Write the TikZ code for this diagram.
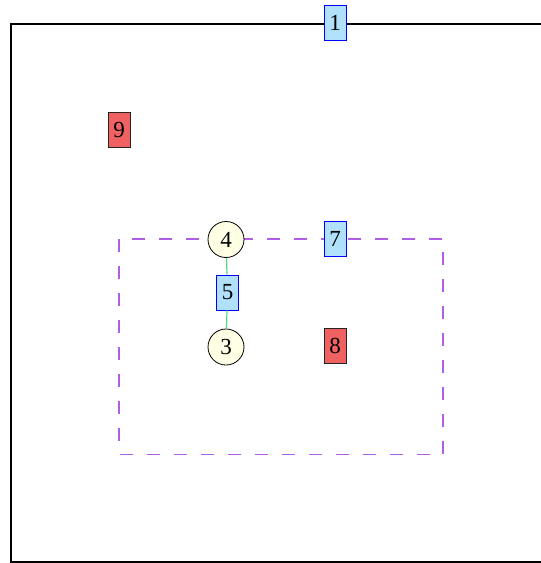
\documentclass[tikz,border=0pt]{standalone}
\usepackage{fontspec}
\setmainfont{Liberation Serif}
\definecolor{boxblue}{RGB}{176,224,250}
\definecolor{boxred}{RGB}{240,98,98}
\definecolor{dotyellow}{RGB}{255,255,230}
\definecolor{linegreen}{RGB}{80,220,130}
\definecolor{dashpurple}{RGB}{175,95,230}
\tikzset{
  bluebox/.style={rectangle, draw=blue, fill=boxblue, line width=1pt, minimum width=22pt, minimum height=35pt, inner sep=0pt},
  redbox/.style={rectangle, draw=black!85, fill=boxred, line width=1pt, minimum width=22pt, minimum height=35pt, inner sep=0pt},
  dot/.style={circle, draw=black, fill=dotyellow, line width=0.8pt, minimum size=36pt, inner sep=0pt}
}

\begin{document}
\begin{tikzpicture}[x=1pt, y=-1pt, font=\fontsize{23}{27}\selectfont]
    \useasboundingbox (0,0) rectangle (541,563);

    \draw[line width=2pt] (11,23.5) rectangle (600,561.5);
    \draw[dashpurple, line width=1.5pt, dash pattern=on 13pt off 14pt] (119,239) rectangle (443,454.5);

    \node[bluebox] (n1) at (335,22.5) {1};
    \node[redbox] (n9) at (119,130) {9};

    \node[dot] (n4) at (226,239.5) {4};
    \node[bluebox] (n5) at (227.5,292.5) {5};
    \node[dot] (n3) at (226,347) {3};
    \node[bluebox] (n7) at (335,238.5) {7};
    \node[redbox] (n8) at (335,345.5) {8};

    \draw[linegreen, line width=1.2pt] (n4)--(n5)--(n3);
\end{tikzpicture}
\end{document}
